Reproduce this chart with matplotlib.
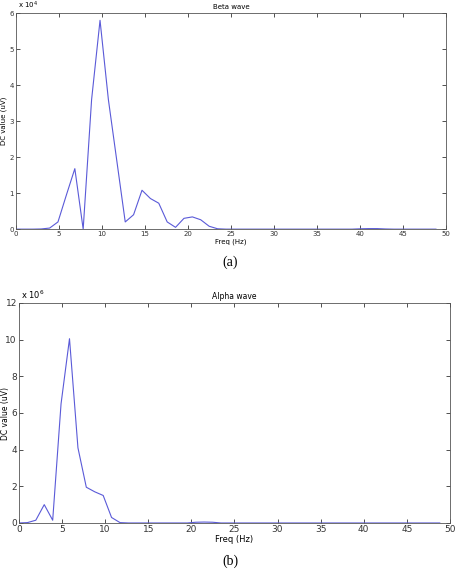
import numpy as np
import matplotlib
matplotlib.use("Agg")
import matplotlib.pyplot as plt

# frequency bins (Hz), spacing ~0.977 Hz
freq = [0.00, 0.98, 1.95, 2.93, 3.91, 4.88, 5.86, 6.84, 7.81, 8.79,
        9.77, 10.74, 11.72, 12.70, 13.67, 14.65, 15.63, 16.60, 17.58, 18.55,
        19.53, 20.51, 21.48, 22.46, 23.44, 24.41, 25.39, 26.37, 27.34, 28.32,
        29.30, 30.27, 31.25, 32.23, 33.20, 34.18, 35.16, 36.13, 37.11, 38.09,
        39.06, 40.04, 41.02, 41.99, 42.97, 43.95, 44.92, 45.90, 46.88, 47.85,
        48.83]

# Beta wave, units of 1e4 uV
beta = [0, 0, 0, 0.005, 0.03, 0.2, 0.95, 1.68, 0.0, 3.6,
        5.8, 3.6, 1.9, 0.2, 0.4, 1.08, 0.85, 0.72, 0.2, 0.05,
        0.3, 0.34, 0.26, 0.08, 0.01, 0, 0, 0, 0, 0,
        0, 0, 0, 0, 0, 0, 0, 0, 0, 0,
        0, 0.01, 0.015, 0.015, 0.005, 0, 0, 0, 0, 0,
        0]

# Alpha wave, units of 1e6 uV
alpha = [0, 0.02, 0.15, 1.0, 0.15, 6.5, 10.05, 4.1, 1.95, 1.7,
         1.5, 0.3, 0.02, 0, 0, 0, 0, 0, 0, 0,
         0, 0.04, 0.05, 0.04, 0, 0, 0, 0, 0, 0,
         0, 0, 0, 0, 0, 0, 0, 0, 0, 0,
         0, 0, 0, 0, 0, 0, 0, 0, 0, 0,
         0]

line_col = "#5a5ad8"

fig = plt.figure(figsize=(4.6, 5.7), dpi=100)
fig.patch.set_facecolor("white")

ax1 = fig.add_axes([0.0348, 0.598, 0.9348, 0.379])
ax2 = fig.add_axes([0.0413, 0.0825, 0.9367, 0.386])


def style(ax, fs):
    ax.set_xlim(0, 50)
    ax.set_xticks(np.arange(0, 51, 5))
    ax.tick_params(direction="in", top=True, right=True, length=3,
                   width=0.6, labelsize=fs, pad=1.5, colors="#333333")
    for s in ax.spines.values():
        s.set_linewidth(0.6)
        s.set_color("#555555")


ax1.plot(freq, beta, color=line_col, lw=0.8)
style(ax1, 5)
ax1.set_ylim(0, 6)
ax1.set_yticks(range(0, 7))
ax1.set_title("Beta wave", fontsize=5, pad=3)
ax1.set_xlabel("Freq (Hz)", fontsize=5, labelpad=1)
ax1.text(0.005, 1.012, r"x 10$^4$", transform=ax1.transAxes,
         fontsize=5, va="bottom", ha="left")
fig.text(0.002, 1 - 121 / 570, "DC value (uV)", fontsize=5, rotation=90,
         ha="left", va="center")

ax2.plot(freq, alpha, color=line_col, lw=0.8)
style(ax2, 6.5)
ax2.set_ylim(0, 12)
ax2.set_yticks(range(0, 13, 2))
ax2.set_title("Alpha wave", fontsize=5.5, pad=3)
ax2.set_xlabel("Freq (Hz)", fontsize=6, labelpad=1)
ax2.text(0.005, 1.01, r"x 10$^6$", transform=ax2.transAxes,
         fontsize=6, va="bottom", ha="left")
fig.text(0.002, 1 - 413 / 570, "DC value (uV)", fontsize=5.5, rotation=90,
         ha="left", va="center")

fig.text(0.5, 1 - 262 / 570, "(a)", fontsize=10, family="Liberation Serif",
         ha="center", va="center")
fig.text(0.5, 1 - 561 / 570, "(b)", fontsize=10, family="Liberation Serif",
         ha="center", va="center")

fig.savefig("out.png", dpi=100)
